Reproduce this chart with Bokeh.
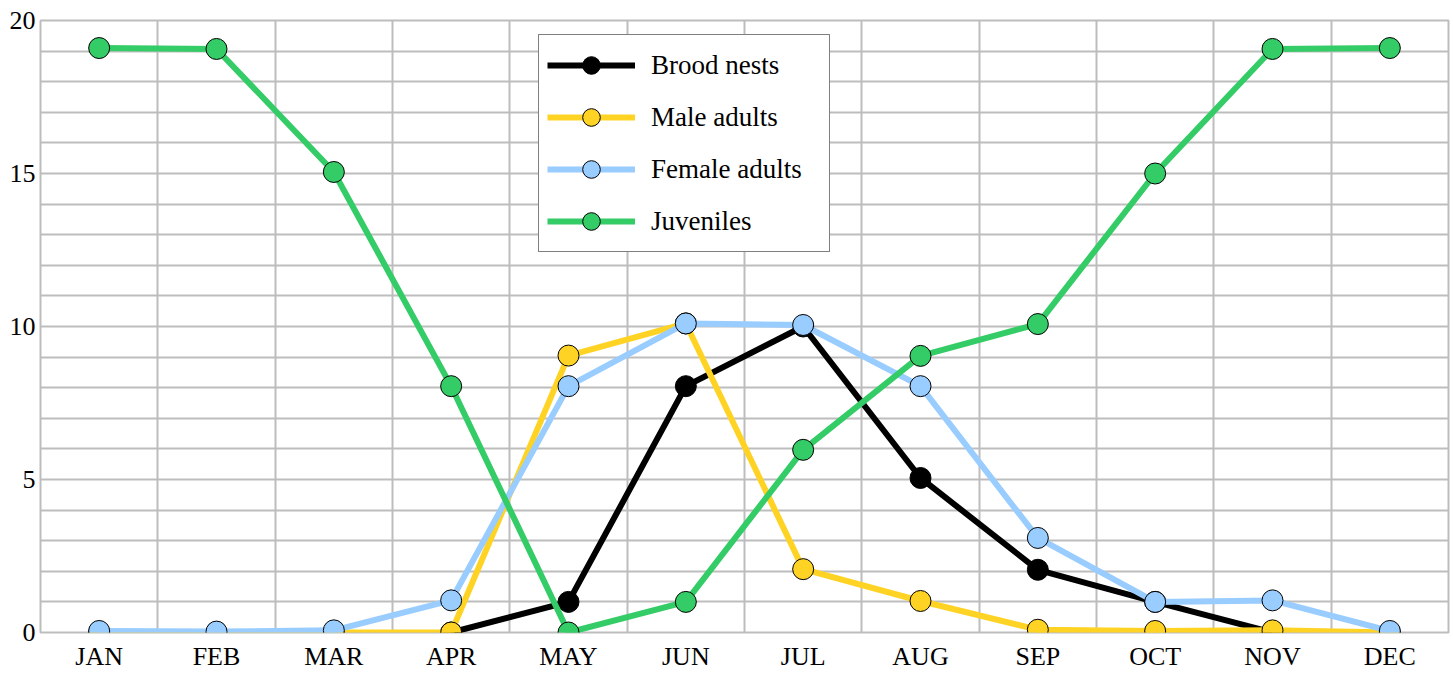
import numpy as np
from bokeh.plotting import figure
from bokeh.models import Range1d, FixedTicker, Legend, LegendItem
from bokeh.embed import file_html
from bokeh.resources import INLINE

months = ["JAN", "FEB", "MAR", "APR", "MAY", "JUN", "JUL", "AUG", "SEP", "OCT", "NOV", "DEC"]
nan = float("nan")
brood_nests = [nan, nan, nan, 0, 1, 8.05, 10.0, 5.05, 2.05, 1.0, 0, nan]
male_adults = [0, 0, 0, 0, 9.05, 10.1, 2.07, 1.03, 0.09, 0.05, 0.07, 0]
female_adults = [0.05, 0.03, 0.07, 1.05, 8.05, 10.1, 10.05, 8.05, 3.09, 1.0, 1.05, 0.05]
juveniles = [19.1, 19.07, 15.05, 8.05, 0, 1.0, 5.97, 9.04, 10.08, 15.0, 19.07, 19.1]

series = [
    ("Brood nests", brood_nests, "#000000"),
    ("Male adults", male_adults, "#FFD324"),
    ("Female adults", female_adults, "#99CCFF"),
    ("Juveniles", juveniles, "#33CC66"),
]

FONT = "Liberation Serif"
GRID = "#BDBDBD"

p = figure(width=1453, height=673, output_backend="svg", toolbar_location=None,
           x_range=Range1d(0, 12), y_range=Range1d(0, 20),
           min_border_left=40, min_border_right=5, min_border_top=20, min_border_bottom=41)

x = np.arange(len(months)) + 0.5

items = []
for name, vals, col in series:
    y = np.array(vals, dtype=float)
    r1 = p.line(x, y, line_color=col, line_width=6)
    r2 = p.scatter(x, y, size=21, fill_color=col, line_color="#000000", line_width=1)
    items.append(LegendItem(label=name, renderers=[r1, r2]))

p.xaxis.ticker = FixedTicker(ticks=list(x))
p.xaxis.major_label_overrides = {float(xx): m for xx, m in zip(x, months)}
p.yaxis.ticker = FixedTicker(ticks=[0, 5, 10, 15, 20])
p.xgrid.ticker = FixedTicker(ticks=list(range(13)))
p.ygrid.ticker = FixedTicker(ticks=list(range(21)))

for ax in (p.xaxis, p.yaxis):
    ax.axis_line_color = None
    ax.major_tick_line_color = None
    ax.minor_tick_line_color = None
    ax.major_tick_out = 0
    ax.major_tick_in = 0
    ax.minor_tick_out = 0
    ax.minor_tick_in = 0
    ax.major_label_text_font = FONT
    ax.major_label_text_font_size = "26px"
    ax.major_label_text_color = "#000000"
p.xaxis.major_label_standoff = 9
p.yaxis.major_label_standoff = 5

for g in (p.xgrid, p.ygrid):
    g.grid_line_color = GRID
    g.grid_line_width = 2

p.outline_line_color = GRID
p.outline_line_width = 2
p.background_fill_color = "white"
p.border_fill_color = "white"

legend = Legend(items=items, location=(498, 380), orientation="vertical",
                glyph_width=88, glyph_height=44, label_height=44, spacing=8,
                padding=8, margin=0, label_standoff=16, label_width=170,
                label_text_font=FONT, label_text_font_size="27px",
                label_text_color="#000000",
                border_line_color="#000000", border_line_width=1,
                background_fill_color="white", background_fill_alpha=1)
p.add_layout(legend)

open("out.html", "w").write(file_html(p, INLINE))
